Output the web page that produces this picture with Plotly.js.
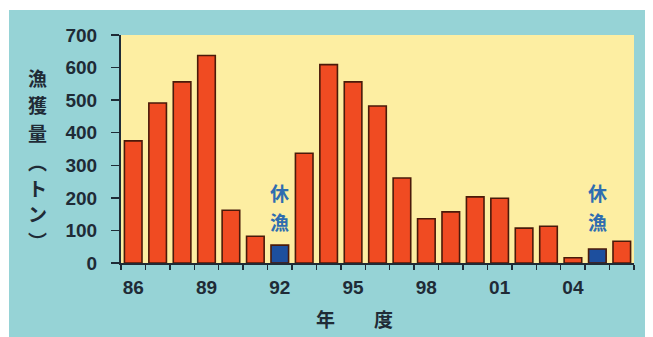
<!DOCTYPE html>
<html><head><meta charset="utf-8">
<script src="https://cdn.plot.ly/plotly-3.0.1.min.js"></script>
<style>
html,body{margin:0;padding:0;background:#ffffff;width:653px;height:337px;overflow:hidden;}
#chart{position:absolute;left:9px;top:10px;width:636px;height:327px;}
</style></head>
<body><div id="chart"></div>
<script>
const years = ['86','87','88','89','90','91','92','93','94','95','96','97','98','99','00','01','02','03','04','05','06'];
const catch_t = [375,491,556,637,162,82,55,337,609,556,482,261,136,157,203,199,107,113,16,43,67];
const closed = [false,false,false,false,false,false,true,false,false,false,false,false,false,false,false,false,false,false,false,true,false];
const tickLabels = ['86','89','92','95','98','01','04'];
const yTicks = [0,100,200,300,400,500,600,700];
const yTitleChars = ['漁','獲','量','︵','ト','ン','︶'];
const xTitleChars = ['年','度'];
const closedNote = ['休','漁'];

const idx = years.map((_, i) => i);
const tickIdx = tickLabels.map(t => years.indexOf(t));
const colors = closed.map(c => c ? '#1d4f9e' : '#f04b22');

const trace = {
  type: 'bar', x: idx, y: catch_t, width: 0.72,
  marker: {color: colors, line: {color: '#4a1a0a', width: 1.6}},
  hoverinfo: 'skip'
};

const numFont = {family: 'Liberation Sans, Arial, sans-serif', size: 19, color: '#1f2b36', weight: 'bold'};
const cjk = 'Noto Sans CJK JP, sans-serif';
const titleFont = {family: cjk, size: 19, color: '#1f2b36', weight: 'bold'};

const annotations = [];
// 休漁 notes above closed-season bars (stacked vertically)
idx.forEach(i => {
  if (closed[i]) {
    closedNote.forEach((ch, k) => {
      annotations.push({x: i, y: 1 - (192 + 29 * k - 35) / 228, xref: 'x', yref: 'paper', yanchor: 'middle',
        showarrow: false, text: ch, font: {family: cjk, size: 19, color: '#2f6db0', weight: 'bold'}});
    });
  }
});
// vertical y-axis title
yTitleChars.forEach((ch, k) => {
  const ypx = [77, 104, 132, 161, 187, 213, 240][k];
  annotations.push({xref: 'paper', yref: 'paper', x: (37 - 121) / 513, y: (263 - ypx) / 228,
    xanchor: 'center', yanchor: 'middle', showarrow: false, text: ch, font: titleFont});
});
// x-axis title
xTitleChars.forEach((ch, k) => {
  const xpx = [325, 383][k];
  annotations.push({xref: 'paper', yref: 'paper', x: (xpx - 121) / 513, y: -(318 - 263) / 228,
    xanchor: 'center', yanchor: 'middle', showarrow: false, text: ch, font: titleFont});
});

const layout = {
  width: 636, height: 327,
  margin: {l: 112, r: 11, t: 25, b: 74},
  paper_bgcolor: '#96d3d6', plot_bgcolor: '#fdeea2',
  showlegend: false, bargap: 0.28,
  font: numFont,
  xaxis: {
    range: [-0.5, 20.5], tickmode: 'array', tickvals: tickIdx, ticktext: tickLabels,
    ticks: 'outside', ticklen: 6, tickcolor: 'rgba(0,0,0,0)', tickfont: numFont,
    showline: true, linecolor: '#1f2b36', linewidth: 2, showgrid: false, zeroline: false,
    minor: {tick0: -0.5, dtick: 1, ticks: 'outside', ticklen: 5, tickcolor: '#1f2b36', tickwidth: 1.5, showgrid: false}
  },
  yaxis: {
    range: [0, 700], tickmode: 'array', tickvals: yTicks,
    ticks: 'outside', ticklen: 8, tickcolor: '#1f2b36', tickwidth: 1.5, ticklabelstandoff: 10,
    tickfont: numFont, showline: true, linecolor: '#1f2b36', linewidth: 2,
    showgrid: false, zeroline: false
  },
  annotations: annotations
};

Plotly.newPlot('chart', [trace], layout, {displayModeBar: false, staticPlot: true});
</script></body></html>
